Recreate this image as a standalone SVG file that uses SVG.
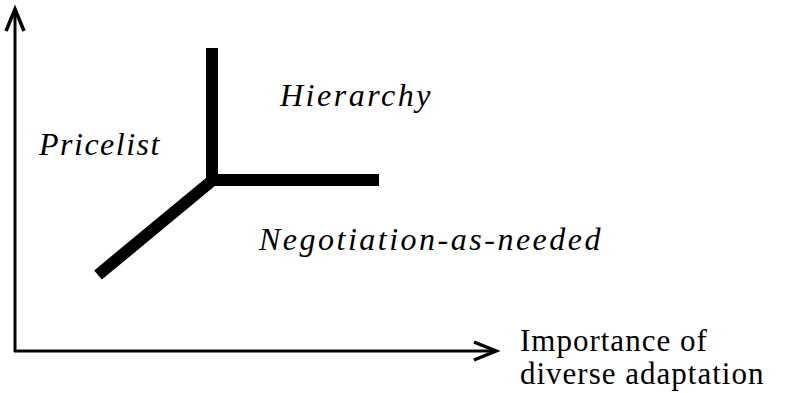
<svg xmlns="http://www.w3.org/2000/svg" width="797" height="393" viewBox="0 0 797 393">
<defs>
<marker id="open" markerUnits="userSpaceOnUse" viewBox="-26 -12 30 24" refX="0" refY="0" markerWidth="30" markerHeight="24" orient="auto" overflow="visible">
<path d="M-22,-9 L0,0 L-22,9" fill="none" stroke="#000" stroke-width="3.5"/>
</marker>
</defs>
<g id="axes" stroke="#000" stroke-width="3" fill="none">
<path d="M15,352 V9" marker-end="url(#open)"/>
<path d="M14,351 H496" marker-end="url(#open)"/>
</g>
<g id="connectors" stroke="#000" stroke-width="12" fill="none" stroke-linejoin="miter">
<path d="M212,48 V180 H379"/>
<path d="M214,179 L98,275"/>
</g>
<g id="hierarchy"><text font-family="serif" font-style="italic" font-size="32" letter-spacing="2.5" x="280" y="106">Hierarchy</text></g>
<g id="pricelist"><text font-family="serif" font-style="italic" font-size="32" letter-spacing="1.5" x="39" y="155">Pricelist</text></g>
<g id="negotiation"><text font-family="serif" font-style="italic" font-size="32" letter-spacing="2.5" x="259" y="250">Negotiation-as-needed</text></g>
<g id="xlabel"><text font-family="serif" font-size="31" letter-spacing="1" x="520" y="351">Importance of</text><text font-family="serif" font-size="31" letter-spacing="1" x="520" y="384">diverse adaptation</text></g>
</svg>
